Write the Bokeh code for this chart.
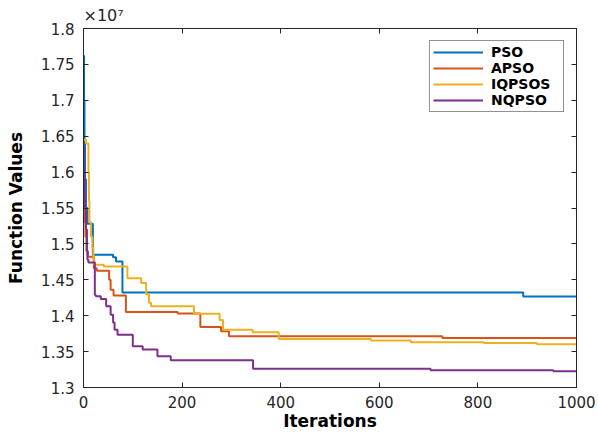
from bokeh.plotting import figure
from bokeh.models import Range1d, LinearAxis, FixedTicker, CustomLabelingPolicy
from bokeh.embed import file_html
from bokeh.resources import INLINE

# ---- data (function values in units of 1e7) ----
pso_iter = [0, 1, 2, 3, 5, 8, 19, 60, 66, 79, 892, 1000]
pso_val = [1.762, 1.70, 1.64, 1.59, 1.55, 1.528, 1.485, 1.4815, 1.4755, 1.4324, 1.4268, 1.4268]

apso_iter = [0, 2, 4, 6, 9, 21, 27, 52, 55, 61, 86, 191, 237, 279, 295, 728, 1000]
apso_val = [1.55, 1.53, 1.51, 1.49, 1.482, 1.466, 1.4625, 1.45, 1.436, 1.428, 1.405, 1.403, 1.3843, 1.3782, 1.3713, 1.369, 1.369]

iqpsos_iter = [0, 5, 10, 11, 12, 15, 18, 20, 22, 41, 89, 117, 127, 133, 137, 224, 276, 283, 343, 396, 583, 664, 812, 920, 1000]
iqpsos_val = [1.645, 1.64, 1.60, 1.56, 1.53, 1.51, 1.495, 1.478, 1.471, 1.4685, 1.4523, 1.4454, 1.43, 1.418, 1.413, 1.4028, 1.394, 1.3806, 1.3768, 1.3676, 1.3653, 1.3629, 1.362, 1.3601, 1.3601]

nqpso_iter = [0, 1, 2, 3, 5, 7, 8, 10, 23, 25, 35, 46, 55, 60, 63, 69, 100, 120, 150, 177, 344, 704, 953, 1000]
nqpso_val = [1.635, 1.60, 1.57, 1.55, 1.52, 1.49, 1.478, 1.474, 1.429, 1.427, 1.4232, 1.413, 1.4014, 1.3907, 1.3806, 1.3736, 1.3574, 1.3528, 1.3435, 1.3379, 1.326, 1.324, 1.3226, 1.3226]

series_names = ["PSO", "APSO", "IQPSOS", "NQPSO"]
series_colors = ["#0072BD", "#D95319", "#EDB120", "#7E2F8E"]

x_ticks = [0, 200, 400, 600, 800, 1000]
x_tick_labels = ["0", "200", "400", "600", "800", "1000"]
y_ticks = [1.3, 1.35, 1.4, 1.45, 1.5, 1.55, 1.6, 1.65, 1.7, 1.75, 1.8]
y_tick_labels = ["1.3", "1.35", "1.4", "1.45", "1.5", "1.55", "1.6", "1.65", "1.7", "1.75", "1.8"]

AX = "#262626"
FONT = "DejaVu Sans"

p = figure(width=598, height=433, output_backend="svg", toolbar_location=None,
           x_range=Range1d(0, 1000), y_range=Range1d(1.3, 1.8),
           x_axis_location=None, y_axis_location=None,
           min_border_left=83, min_border_right=22, min_border_top=28, min_border_bottom=45,
           background_fill_color="white", border_fill_color="white")
p.outline_line_color = AX
p.xgrid.visible = False
p.ygrid.visible = False

p.title.text = "\u00d710\u2077"
p.title.align = "left"
p.title.text_font = FONT
p.title.text_font_size = "16px"
p.title.text_font_style = "normal"
p.title.text_color = AX
p.title.standoff = 0
p.title.offset = 0

bottom_axis = LinearAxis(axis_label="Iterations")
left_axis = LinearAxis(axis_label="Function Values")
top_axis = LinearAxis()
right_axis = LinearAxis()
p.add_layout(bottom_axis, "below")
p.add_layout(left_axis, "left")
p.add_layout(top_axis, "above")
p.add_layout(right_axis, "right")

hide_all = CustomLabelingPolicy(code="return new Set()")

def style(ax, ticks, labels, show):
    ax.ticker = FixedTicker(ticks=ticks)
    ax.major_tick_in = 5
    ax.major_tick_out = 0
    ax.minor_tick_line_color = None
    ax.axis_line_color = AX
    ax.major_tick_line_color = AX
    ax.major_label_text_font = FONT
    ax.major_label_text_color = AX
    ax.axis_label_text_font = FONT
    ax.axis_label_text_font_style = "bold"
    ax.axis_label_text_font_size = "17px"
    ax.axis_label_text_color = "black"
    if show:
        ax.major_label_overrides = dict(zip(ticks, labels))
        ax.major_label_text_font_size = "15px"
    else:
        ax.major_label_text_font_size = "1px"
        ax.major_label_standoff = 0
        ax.major_label_policy = hide_all

style(bottom_axis, x_ticks, x_tick_labels, True)
style(left_axis, y_ticks, y_tick_labels, True)
style(top_axis, x_ticks, x_tick_labels, False)
style(right_axis, y_ticks, y_tick_labels, False)
bottom_axis.major_label_standoff = 8
bottom_axis.axis_label_standoff = 0
left_axis.major_label_standoff = 9
left_axis.axis_label_standoff = 12

all_iters = [pso_iter, apso_iter, iqpsos_iter, nqpso_iter]
all_vals = [pso_val, apso_val, iqpsos_val, nqpso_val]
for it, vals, name, col in zip(all_iters, all_vals, series_names, series_colors):
    p.step(it, vals, mode="after", line_color=col, line_width=2, legend_label=name)

lg = p.legend[0]
lg.location = "top_right"
lg.margin = 12
lg.padding = 3
lg.spacing = 0
lg.glyph_width = 50
lg.glyph_height = 16
lg.label_height = 16
lg.label_width = 69
lg.label_standoff = 8
lg.label_text_font = FONT
lg.label_text_font_style = "bold"
lg.label_text_font_size = "14px"
lg.label_text_color = "black"
lg.border_line_color = AX
lg.border_line_width = 1
lg.background_fill_color = "white"
lg.background_fill_alpha = 1

open("out.html", "w").write(file_html(p, INLINE))
